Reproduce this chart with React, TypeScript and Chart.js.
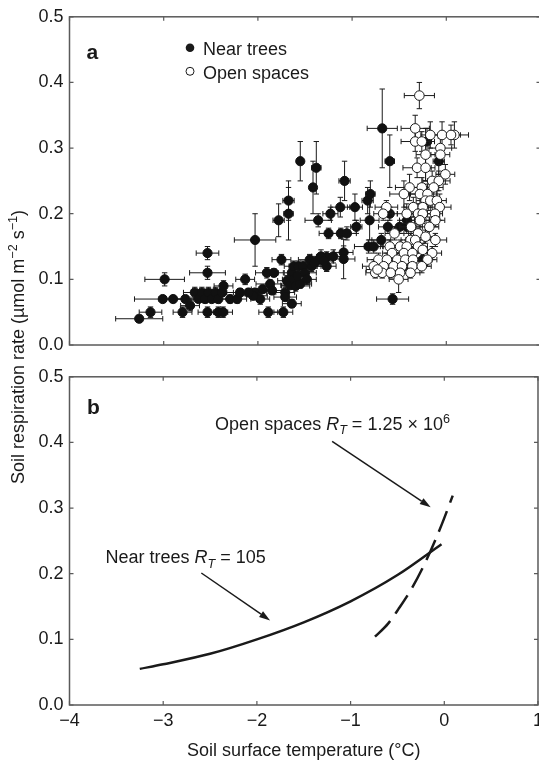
import React, { useEffect, useRef } from 'react';
import { Chart, registerables } from 'chart.js';
Chart.register(...registerables);

const FONT = "'Liberation Sans', Arial, Helvetica, sans-serif";
const INK = '#1a1a1a';
const AXIS = '#5a5a5a';
const PLOT_LEFT = 69.5;

const xTickValues = [-4, -3, -2, -1, 0, 1];
const yTickValues = [0, 0.1, 0.2, 0.3, 0.4, 0.5];

// Panel a — near trees
const nearTreesTemp = [
  -3.26, -3.14, -2.99, -3.01, -2.90, -2.80, -2.77, -2.72, -2.67, -2.63,
  -2.595, -2.56, -2.535, -2.535, -2.535, -2.525, -2.49, -2.45, -2.42, -2.42,
  -2.37, -2.38, -2.365, -2.295, -2.22, -2.19, -2.135, -2.03, -2.03, -1.975,
  -1.905, -1.89, -1.87, -1.85, -1.83, -1.78, -1.75, -1.73, -1.71, -1.71,
  -1.69, -1.675, -1.675, -1.657, -1.64, -1.64, -1.62, -1.62, -1.60, -1.57,
  -1.55, -1.55, -1.52, -1.50, -1.43, -1.415, -1.38, -1.36, -1.355, -1.27,
  -1.27, -1.25, -1.23, -1.125, -1.12, -1.09, -1.09, -1.08, -1.055, -0.97,
  -0.955, -0.835, -0.825, -0.814, -0.806, -0.77, -0.69, -0.68, -0.62, -0.60,
  -0.60, -0.57, -0.495, -0.45, -0.42, -0.417, -0.25, -0.205, -0.08, -1.45,
  -1.40, -1.33, -1.30, -1.20, -1.48, -1.58, -2.05, -1.95, -2.10,
];
const nearTreesResp = [
  0.040, 0.050, 0.100, 0.070, 0.070, 0.050, 0.070, 0.060, 0.080, 0.070,
  0.080, 0.070, 0.140, 0.110, 0.050, 0.080, 0.070, 0.080, 0.070, 0.050,
  0.050, 0.080, 0.090, 0.070, 0.070, 0.080, 0.100, 0.160, 0.080, 0.070,
  0.110, 0.050, 0.093, 0.083, 0.110, 0.190, 0.130, 0.050, 0.080, 0.073,
  0.098, 0.220, 0.200, 0.091, 0.063, 0.110, 0.120, 0.100, 0.090, 0.120,
  0.280, 0.093, 0.120, 0.110, 0.120, 0.240, 0.270, 0.190, 0.130, 0.120,
  0.134, 0.170, 0.200, 0.210, 0.170, 0.141, 0.131, 0.250, 0.170, 0.210,
  0.180, 0.220, 0.150, 0.190, 0.230, 0.150, 0.160, 0.330, 0.180, 0.280,
  0.200, 0.070, 0.180, 0.120, 0.180, 0.190, 0.130, 0.310, 0.280, 0.130,
  0.125, 0.135, 0.128, 0.135, 0.100, 0.105, 0.075, 0.085, 0.080,
];
const nearTreesTempErr = [
  0.25, 0.12, 0.21, 0.30, 0.15, 0.10, 0.12, 0.10, 0.12, 0.15,
  0.10, 0.12, 0.12, 0.19, 0.10, 0.15, 0.10, 0.12, 0.10, 0.10,
  0.10, 0.12, 0.10, 0.10, 0.10, 0.15, 0.10, 0.22, 0.12, 0.10,
  0.12, 0.10, 0.15, 0.12, 0.10, 0.06, 0.10, 0.10, 0.10, 0.12,
  0.10, 0.06, 0.05, 0.10, 0.10, 0.08, 0.10, 0.12, 0.15, 0.10,
  0.03, 0.12, 0.10, 0.12, 0.10, 0.03, 0.05, 0.14, 0.10, 0.10,
  0.10, 0.10, 0.08, 0.10, 0.10, 0.10, 0.12, 0.06, 0.10, 0.08,
  0.06, 0.06, 0.15, 0.10, 0.05, 0.10, 0.10, 0.16, 0.10, 0.05,
  0.08, 0.17, 0.10, 0.10, 0.10, 0.08, 0.10, 0.08, 0.06, 0.12,
  0.10, 0.10, 0.10, 0.08, 0.10, 0.10, 0.15, 0.12, 0.12,
];
const nearTreesRespErr = [
  0.005, 0.008, 0.010, 0.005, 0.005, 0.008, 0.005, 0.008, 0.008, 0.005,
  0.008, 0.006, 0.010, 0.010, 0.008, 0.008, 0.005, 0.008, 0.006, 0.008,
  0.008, 0.006, 0.008, 0.006, 0.006, 0.006, 0.008, 0.040, 0.006, 0.008,
  0.008, 0.008, 0.006, 0.006, 0.006, 0.025, 0.008, 0.008, 0.008, 0.006,
  0.008, 0.030, 0.040, 0.006, 0.006, 0.010, 0.008, 0.008, 0.008, 0.008,
  0.030, 0.006, 0.008, 0.008, 0.008, 0.040, 0.040, 0.010, 0.008, 0.008,
  0.008, 0.008, 0.010, 0.015, 0.008, 0.010, 0.030, 0.030, 0.010, 0.020,
  0.010, 0.020, 0.010, 0.030, 0.020, 0.010, 0.010, 0.060, 0.010, 0.040,
  0.010, 0.008, 0.010, 0.010, 0.010, 0.010, 0.010, 0.020, 0.020, 0.008,
  0.008, 0.010, 0.008, 0.010, 0.008, 0.008, 0.006, 0.006, 0.006,
];

// Panel a — open spaces
const openSpacesTemp = [
  -0.286, -0.33, -0.17, -0.045, 0.086, 0.05, -0.33, -0.26, -0.063, -0.063,
  -0.22, -0.31, -0.22, -0.01, -0.15, -0.08, -0.39, -0.26, -0.134, -0.45,
  -0.28, -0.20, -0.22, -0.17, -0.10, -0.636, -0.35, -0.25, -0.07, -0.67,
  -0.42, -0.30, -0.25, -0.12, -0.28, -0.116, -0.374, -0.18, -0.55, -0.30,
  -0.22, -0.38, -0.33, -0.116, -0.60, -0.49, -0.42, -0.30, -0.576, -0.45,
  -0.36, -0.25, -0.15, -0.72, -0.63, -0.52, -0.435, -0.353, -0.20, -0.77,
  -0.665, -0.56, -0.47, -0.36, -0.26, -0.754, -0.68, -0.59, -0.49, -0.38,
  -0.73, -0.506,
];
const openSpacesResp = [
  0.380, 0.330, 0.320, 0.320, 0.320, 0.320, 0.310, 0.310, 0.300, 0.290,
  0.290, 0.270, 0.270, 0.260, 0.250, 0.250, 0.240, 0.240, 0.240, 0.230,
  0.230, 0.230, 0.220, 0.220, 0.220, 0.210, 0.210, 0.210, 0.210, 0.200,
  0.200, 0.200, 0.200, 0.200, 0.190, 0.190, 0.180, 0.180, 0.170, 0.170,
  0.165, 0.160, 0.160, 0.160, 0.150, 0.150, 0.150, 0.150, 0.140, 0.140,
  0.140, 0.145, 0.140, 0.130, 0.130, 0.130, 0.130, 0.130, 0.130, 0.120,
  0.120, 0.120, 0.120, 0.120, 0.120, 0.110, 0.110, 0.110, 0.110, 0.110,
  0.115, 0.100,
];
const openSpacesTempErr = [
  0.16, 0.15, 0.10, 0.10, 0.15, 0.10, 0.15, 0.10, 0.12, 0.10,
  0.10, 0.15, 0.10, 0.10, 0.10, 0.12, 0.15, 0.10, 0.10, 0.15,
  0.10, 0.10, 0.10, 0.10, 0.10, 0.12, 0.10, 0.10, 0.12, 0.10,
  0.10, 0.10, 0.10, 0.08, 0.10, 0.10, 0.12, 0.10, 0.10, 0.10,
  0.10, 0.10, 0.10, 0.12, 0.10, 0.10, 0.10, 0.10, 0.10, 0.10,
  0.10, 0.10, 0.10, 0.12, 0.10, 0.10, 0.10, 0.10, 0.10, 0.12,
  0.10, 0.10, 0.10, 0.10, 0.10, 0.10, 0.10, 0.10, 0.10, 0.10,
  0.12, 0.10,
];
const openSpacesRespErr = [
  0.020, 0.020, 0.020, 0.020, 0.020, 0.015, 0.015, 0.015, 0.015, 0.015,
  0.040, 0.015, 0.020, 0.015, 0.015, 0.015, 0.020, 0.015, 0.015, 0.020,
  0.015, 0.015, 0.015, 0.015, 0.015, 0.010, 0.015, 0.015, 0.020, 0.010,
  0.015, 0.015, 0.015, 0.015, 0.015, 0.010, 0.015, 0.015, 0.010, 0.015,
  0.010, 0.010, 0.015, 0.010, 0.010, 0.010, 0.010, 0.010, 0.010, 0.010,
  0.010, 0.010, 0.010, 0.010, 0.010, 0.010, 0.010, 0.010, 0.010, 0.010,
  0.010, 0.010, 0.010, 0.010, 0.010, 0.008, 0.008, 0.008, 0.008, 0.008,
  0.010, 0.020,
];

// Panel b — fitted curves
const nearTreesFitTemp = [-3.25, -3.0, -2.5, -2.0, -1.5, -1.0, -0.5, -0.03];
const nearTreesFitResp = [0.055, 0.062, 0.078, 0.100, 0.126, 0.158, 0.198, 0.245];
const openSpacesFitTemp = [-0.74, -0.6, -0.49, -0.35, -0.2, -0.03, 0.09];
const openSpacesFitResp = [0.104, 0.124, 0.146, 0.177, 0.218, 0.274, 0.319];

const pts = (xs: number[], ys: number[], xe?: number[], ye?: number[]) =>
  xs.map((x, i) => ({ x, y: ys[i], xe: xe ? xe[i] : 0, ye: ye ? ye[i] : 0 }));

const framePlugin = {
  id: 'frame',
  beforeDatasetsDraw(chart: any) {
    const { ctx, chartArea: a, scales } = chart;
    ctx.save();
    ctx.strokeStyle = AXIS;
    ctx.lineWidth = 1.5;
    ctx.strokeRect(a.left, a.top, a.right - a.left, a.bottom - a.top);
    ctx.lineWidth = 1.2;
    const L = 4;
    ctx.beginPath();
    xTickValues.forEach((v) => {
      const px = scales.x.getPixelForValue(v);
      ctx.moveTo(px, a.bottom); ctx.lineTo(px, a.bottom - L);
      ctx.moveTo(px, a.top); ctx.lineTo(px, a.top + L);
    });
    yTickValues.forEach((v) => {
      const py = scales.y.getPixelForValue(v);
      ctx.moveTo(a.left, py); ctx.lineTo(a.left + L, py);
      ctx.moveTo(a.right, py); ctx.lineTo(a.right - L, py);
    });
    ctx.stroke();
    ctx.restore();
  },
};

const errorBarPlugin = {
  id: 'errorBars',
  beforeDatasetDraw(chart: any, args: any) {
    const ds = chart.data.datasets[args.index];
    if (!ds.errorBars) return;
    const { ctx, scales } = chart;
    const xs = scales.x, ys = scales.y;
    const c = 2.7;
    ctx.save();
    ctx.strokeStyle = INK;
    ctx.lineWidth = 1;
    ctx.beginPath();
    ds.data.forEach((p: any) => {
      const cx = xs.getPixelForValue(p.x), cy = ys.getPixelForValue(p.y);
      const x0 = xs.getPixelForValue(p.x - p.xe), x1 = xs.getPixelForValue(p.x + p.xe);
      const y0 = ys.getPixelForValue(p.y - p.ye), y1 = ys.getPixelForValue(p.y + p.ye);
      ctx.moveTo(x0, cy); ctx.lineTo(x1, cy);
      ctx.moveTo(x0, cy - c); ctx.lineTo(x0, cy + c);
      ctx.moveTo(x1, cy - c); ctx.lineTo(x1, cy + c);
      ctx.moveTo(cx, y0); ctx.lineTo(cx, y1);
      ctx.moveTo(cx - c, y0); ctx.lineTo(cx + c, y0);
      ctx.moveTo(cx - c, y1); ctx.lineTo(cx + c, y1);
    });
    ctx.stroke();
    ctx.restore();
  },
};

type Part = { t: string; italic?: boolean; sub?: boolean; sup?: boolean };
function richWidth(ctx: CanvasRenderingContext2D, parts: Part[], size: number) {
  let w = 0;
  for (const p of parts) {
    const s = p.sub || p.sup ? size * 0.7 : size;
    ctx.font = `${p.italic ? 'italic ' : ''}${s}px ${FONT}`;
    w += ctx.measureText(p.t).width;
  }
  return w;
}
function drawRich(ctx: CanvasRenderingContext2D, parts: Part[], x: number, y: number, size: number) {
  let cx = x;
  for (const p of parts) {
    const s = p.sub || p.sup ? size * 0.7 : size;
    ctx.font = `${p.italic ? 'italic ' : ''}${s}px ${FONT}`;
    const dy = p.sub ? size * 0.25 : p.sup ? -size * 0.4 : 0;
    ctx.fillText(p.t, cx, y + dy);
    cx += ctx.measureText(p.t).width;
  }
}

function drawArrow(ctx: CanvasRenderingContext2D, x0: number, y0: number, x1: number, y1: number) {
  const ang = Math.atan2(y1 - y0, x1 - x0);
  const hl = 11, hw = 3.5;
  const bx = x1 - hl * Math.cos(ang), by = y1 - hl * Math.sin(ang);
  ctx.beginPath();
  ctx.moveTo(x0, y0); ctx.lineTo(bx, by);
  ctx.stroke();
  ctx.beginPath();
  ctx.moveTo(x1, y1);
  ctx.lineTo(bx + hw * Math.sin(ang), by - hw * Math.cos(ang));
  ctx.lineTo(bx - hw * Math.sin(ang), by + hw * Math.cos(ang));
  ctx.closePath();
  ctx.fill();
}

const topDecorPlugin = {
  id: 'topDecor',
  afterDraw(chart: any) {
    const { ctx, chartArea: a } = chart;
    ctx.save();
    ctx.fillStyle = INK;
    ctx.textBaseline = 'alphabetic';
    ctx.textAlign = 'left';
    ctx.font = `bold 21px ${FONT}`;
    ctx.fillText('a', a.left + 17, a.top + 42);
    const lx = a.left + 120.5;
    ctx.beginPath();
    ctx.arc(lx, a.top + 31, 4.3, 0, Math.PI * 2);
    ctx.fill();
    ctx.beginPath();
    ctx.arc(lx, a.top + 54.5, 4, 0, Math.PI * 2);
    ctx.fillStyle = '#fff';
    ctx.fill();
    ctx.strokeStyle = INK;
    ctx.lineWidth = 1;
    ctx.stroke();
    ctx.fillStyle = INK;
    ctx.font = `18px ${FONT}`;
    ctx.fillText('Near trees', lx + 13, a.top + 38.5);
    ctx.fillText('Open spaces', lx + 13, a.top + 62);
    const parts: Part[] = [
      { t: 'Soil respiration rate (\u00b5mol m' },
      { t: '\u22122', sup: true },
      { t: ' s' },
      { t: '\u22121', sup: true },
      { t: ')' },
    ];
    ctx.translate(24, 347);
    ctx.rotate(-Math.PI / 2);
    const w = richWidth(ctx, parts, 18);
    drawRich(ctx, parts, -w / 2, 0, 18);
    ctx.restore();
  },
};

const bottomDecorPlugin = {
  id: 'bottomDecor',
  afterDraw(chart: any) {
    const { ctx, chartArea: a, scales } = chart;
    const X = (v: number) => scales.x.getPixelForValue(v);
    const Y = (v: number) => scales.y.getPixelForValue(v);
    ctx.save();
    ctx.fillStyle = INK;
    ctx.strokeStyle = INK;
    ctx.textBaseline = 'alphabetic';
    ctx.textAlign = 'left';
    ctx.font = `bold 21px ${FONT}`;
    ctx.fillText('b', a.left + 17.5, a.top + 37);
    drawRich(ctx, [
      { t: 'Open spaces ' }, { t: 'R', italic: true }, { t: 'T', italic: true, sub: true },
      { t: ' = 1.25 \u00d7 10' }, { t: '6', sup: true },
    ], X(-2.446), Y(0.419), 18);
    drawRich(ctx, [
      { t: 'Near trees ' }, { t: 'R', italic: true }, { t: 'T', italic: true, sub: true },
      { t: ' = 105' },
    ], X(-3.615), Y(0.216), 18);
    ctx.lineWidth = 1.5;
    drawArrow(ctx, X(-1.197), Y(0.4017), X(-0.145), Y(0.3014));
    drawArrow(ctx, X(-2.593), Y(0.2011), X(-1.859), Y(0.1288));
    ctx.restore();
  },
};

const yAxis = () => ({
  type: 'linear' as const,
  min: 0,
  max: 0.5,
  afterFit: (s: any) => { s.width = PLOT_LEFT; },
  afterBuildTicks: (s: any) => { s.ticks = yTickValues.map((v) => ({ value: v })); },
  grid: { display: false, drawTicks: false },
  border: { display: false },
  ticks: {
    padding: 6,
    color: INK,
    font: { size: 18, family: FONT },
    callback: (v: any) => Number(v).toFixed(1),
  },
});

export default function App() {
  const topRef = useRef<HTMLCanvasElement>(null);
  const botRef = useRef<HTMLCanvasElement>(null);

  useEffect(() => {
    Chart.defaults.font.family = FONT;
    const top = new Chart(topRef.current as HTMLCanvasElement, {
      type: 'scatter',
      data: {
        datasets: [
          {
            label: 'Open spaces',
            data: pts(openSpacesTemp, openSpacesResp, openSpacesTempErr, openSpacesRespErr),
            errorBars: true,
            order: 0,
            pointRadius: 4.8,
            pointBackgroundColor: '#ffffff',
            pointBorderColor: INK,
            pointBorderWidth: 1,
          } as any,
          {
            label: 'Near trees',
            data: pts(nearTreesTemp, nearTreesResp, nearTreesTempErr, nearTreesRespErr),
            errorBars: true,
            order: 1,
            pointRadius: 4.6,
            pointBackgroundColor: '#111111',
            pointBorderColor: '#111111',
            pointBorderWidth: 1,
          } as any,
        ],
      },
      options: {
        responsive: false,
        animation: false,
        devicePixelRatio: 1,
        layout: { padding: { top: 15, bottom: 419, left: 0, right: 7.5 } },
        plugins: { legend: { display: false }, tooltip: { enabled: false } },
        scales: {
          x: { type: 'linear', min: -4, max: 1, display: false },
          y: yAxis() as any,
        },
      },
      plugins: [framePlugin, errorBarPlugin, topDecorPlugin],
    });

    const bot = new Chart(botRef.current as HTMLCanvasElement, {
      type: 'scatter',
      data: {
        datasets: [
          {
            label: 'Near trees fit',
            data: pts(nearTreesFitTemp, nearTreesFitResp),
            showLine: true,
            borderColor: INK,
            borderWidth: 2.5,
            pointRadius: 0,
            cubicInterpolationMode: 'monotone',
          } as any,
          {
            label: 'Open spaces fit',
            data: pts(openSpacesFitTemp, openSpacesFitResp),
            showLine: true,
            borderColor: INK,
            borderWidth: 2.5,
            borderDash: [22, 9],
            pointRadius: 0,
            cubicInterpolationMode: 'monotone',
          } as any,
        ],
      },
      options: {
        responsive: false,
        animation: false,
        devicePixelRatio: 1,
        layout: { padding: { top: 15, bottom: 0, left: 0, right: 7.5 } },
        plugins: { legend: { display: false }, tooltip: { enabled: false } },
        scales: {
          x: {
            type: 'linear',
            min: -4,
            max: 1,
            afterFit: (s: any) => { s.height = 59; },
            afterBuildTicks: (s: any) => { s.ticks = xTickValues.map((v) => ({ value: v })); },
            grid: { display: false, drawTicks: false },
            border: { display: false },
            ticks: {
              padding: 5,
              color: INK,
              font: { size: 18, family: FONT },
              maxRotation: 0,
              callback: (v: any) => (Number(v) < 0 ? '\u2212' + Math.abs(Number(v)) : String(v)),
            },
            title: {
              display: true,
              text: 'Soil surface temperature (\u00b0C)',
              color: INK,
              font: { size: 18, family: FONT },
              padding: { top: 0, bottom: 2 },
            },
          } as any,
          y: yAxis() as any,
        },
      },
      plugins: [framePlugin, bottomDecorPlugin],
    });

    return () => {
      top.destroy();
      bot.destroy();
    };
  }, []);

  return (
    <div style={{ position: 'fixed', left: 0, top: 0, width: 539, height: 764, overflow: 'hidden', background: '#ffffff' }}>
      <canvas ref={topRef} width={548} height={764}
        style={{ position: 'absolute', left: 0, top: 0, width: 548, height: 764 }} />
      <canvas ref={botRef} width={548} height={404}
        style={{ position: 'absolute', left: 0, top: 360, width: 548, height: 404 }} />
    </div>
  );
}
